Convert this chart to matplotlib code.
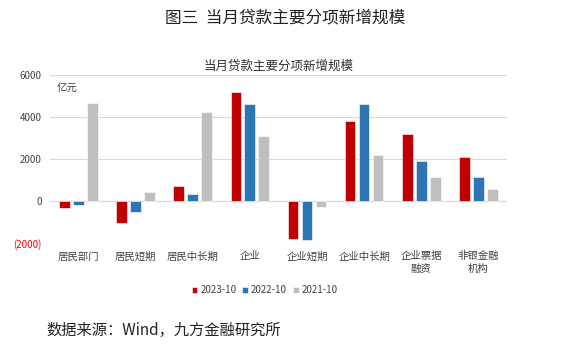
import numpy as np
import matplotlib
matplotlib.use('Agg')
import matplotlib.pyplot as plt

plt.rcParams['font.family'] = ['Noto Sans CJK SC', 'DejaVu Sans']

categories = ['居民部门', '居民短期', '居民中长期', '企业', '企业短期', '企业中长期', '企业票据\n融资', '非银金融\n机构']
s2023 = [-350, -1060, 712, 5170, -1790, 3830, 3180, 2090]
s2022 = [-190, -520, 335, 4636, -1850, 4636, 1900, 1140]
s2021 = [4650, 410, 4225, 3085, -285, 2170, 1155, 585]
series = [('2023-10', s2023, '#C00000'), ('2022-10', s2022, '#2E75B6'), ('2021-10', s2021, '#BFBFBF')]
yticks = [-2000, 0, 2000, 4000, 6000]
ylabels = ['(2000)', '0', '2000', '4000', '6000']

fig = plt.figure(figsize=(5.7, 3.59), dpi=100)
ax = fig.add_axes([0.088, 0.323, 0.801, 0.468])

x = np.arange(len(categories))
w = 0.19
for i, (name, vals, col) in enumerate(series):
    ax.bar(x + (i - 1) * 0.245, vals, w, color=col, label=name,
           edgecolor='white', linewidth=0.4, zorder=3)

ax.set_xlim(-0.5, len(categories) - 0.5)
ax.set_ylim(-2000, 6000)
ax.set_yticks(yticks)
ax.set_yticklabels(ylabels)
for t in ax.get_yticklabels():
    t.set_color('#FF0000' if t.get_text().startswith('(') else '#404040')
ax.tick_params(axis='y', length=0, labelsize=7, pad=6)
ax.set_xticks(x)
ax.set_xticklabels(categories, fontsize=7.5, color='#404040', linespacing=1.3)
ax.tick_params(axis='x', length=0, pad=6)
ax.grid(axis='y', color='#D9D9D9', linewidth=0.8, zorder=0)
ax.axhline(0, color='#D9D9D9', linewidth=0.8, zorder=1)
for s in ax.spines.values():
    s.set_visible(False)

ax.text(0.015, 0.92, '亿元', transform=ax.transAxes, fontsize=7.5, color='#404040', va='center')
ax.set_title('当月贷款主要分项新增规模', fontsize=9, color='#303030', pad=4)

ax.legend(loc='upper center', bbox_to_anchor=(0.47, -0.2), ncol=3, frameon=False,
          fontsize=7, handlelength=0.6, handleheight=0.6, handletextpad=0.3,
          columnspacing=0.6, labelcolor='#404040')

fig.text(0.5, 0.95, '图三  当月贷款主要分项新增规模', fontsize=12, ha='center', va='center', color='#222222')
fig.text(0.082, 0.08, '数据来源：Wind，九方金融研究所', fontsize=11, ha='left', va='center', color='#222222')

fig.savefig('out.png', dpi=100)
